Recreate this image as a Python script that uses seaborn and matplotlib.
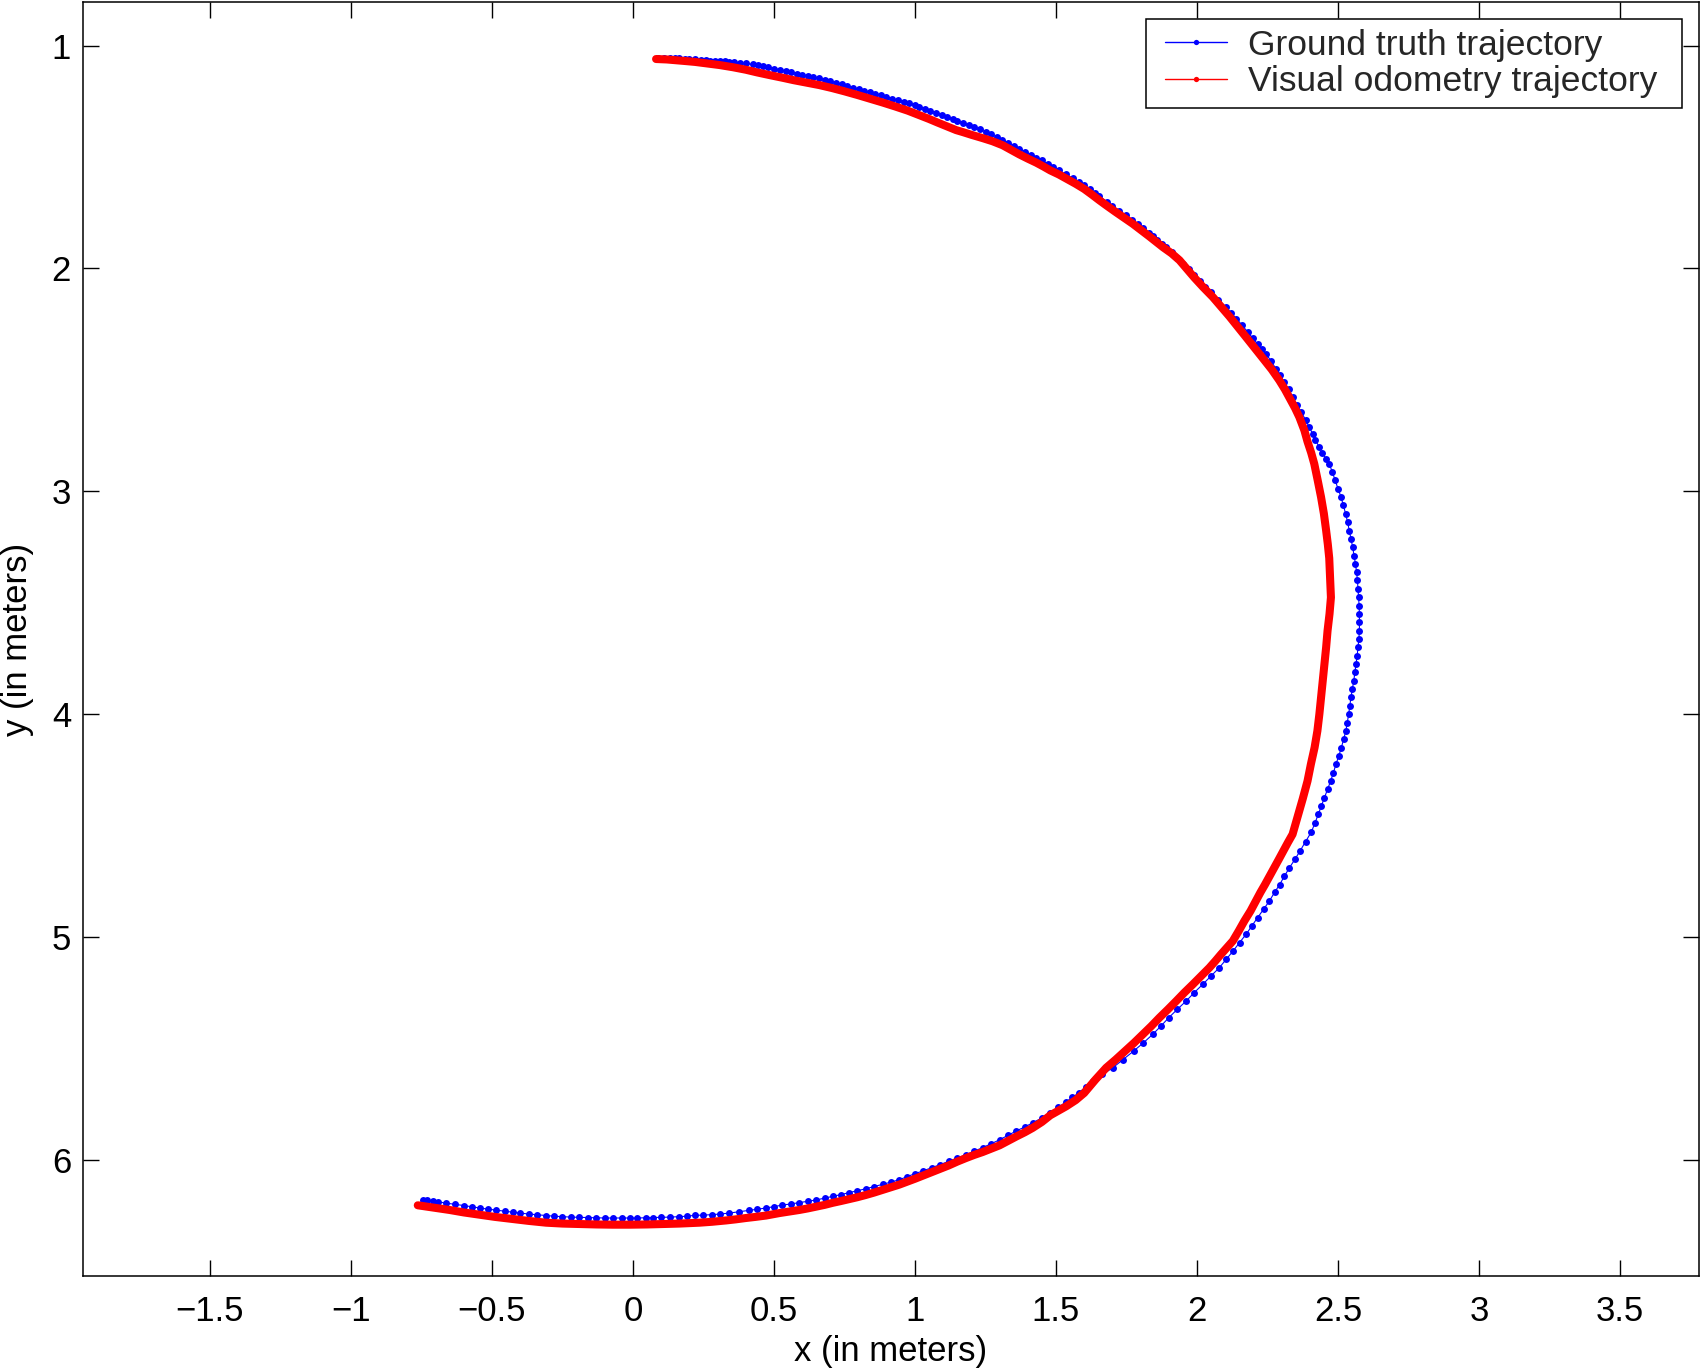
import matplotlib
matplotlib.use("Agg")
import matplotlib.pyplot as plt
from matplotlib.lines import Line2D
from matplotlib.legend_handler import HandlerLine2D
import seaborn as sns

gt_x = [0.09, 0.11, 0.13, 0.15, 0.165, 0.185, 0.20, 0.22, 0.24, 0.26,
        0.275, 0.29, 0.307, 0.325, 0.34, 0.36, 0.38, 0.40, 0.425, 0.445,
        0.46, 0.48, 0.50, 0.52, 0.543, 0.56, 0.58, 0.60, 0.62, 0.64,
        0.661, 0.68, 0.70, 0.72, 0.74, 0.76, 0.779, 0.80, 0.82, 0.84,
        0.86, 0.88, 0.898, 0.92, 0.94, 0.96, 0.98, 1.00, 1.016, 1.035,
        1.055, 1.075, 1.095, 1.115, 1.134, 1.15, 1.17, 1.19, 1.21, 1.23,
        1.252, 1.27, 1.29, 1.31, 1.33, 1.35, 1.37, 1.39, 1.41, 1.43,
        1.45, 1.47, 1.49, 1.51, 1.536, 1.56, 1.58, 1.60, 1.62, 1.637,
        1.654, 1.68, 1.70, 1.725, 1.748, 1.77, 1.79, 1.81, 1.83, 1.845,
        1.86, 1.875, 1.89, 1.91, 1.93, 1.95, 1.97, 1.99, 2.01, 2.03,
        2.05, 2.075, 2.103, 2.12, 2.14, 2.16, 2.18, 2.198, 2.215, 2.23,
        2.245, 2.263, 2.28, 2.295, 2.31, 2.325, 2.339, 2.355, 2.37, 2.385,
        2.398, 2.41, 2.42, 2.433, 2.445, 2.457, 2.469, 2.48, 2.49, 2.50,
        2.511, 2.519, 2.527, 2.534, 2.540, 2.546, 2.552, 2.557, 2.562, 2.566,
        2.569, 2.571, 2.573, 2.575, 2.576, 2.576, 2.576, 2.574, 2.571, 2.568,
        2.564, 2.560, 2.556, 2.551, 2.546, 2.542, 2.538, 2.533, 2.528, 2.520,
        2.512, 2.503, 2.493, 2.484, 2.474, 2.463, 2.452, 2.441, 2.43, 2.418,
        2.405, 2.385, 2.365, 2.347, 2.328, 2.31, 2.293, 2.275, 2.257, 2.236,
        2.215, 2.195, 2.174, 2.151, 2.128, 2.104, 2.079, 2.05, 2.02, 1.99,
        1.961, 1.93, 1.90, 1.872, 1.843, 1.81, 1.775, 1.738, 1.701, 1.665,
        1.63, 1.605, 1.58, 1.558, 1.536, 1.508, 1.48, 1.45, 1.417, 1.39,
        1.36, 1.33, 1.30, 1.27, 1.24, 1.21, 1.181, 1.15, 1.12, 1.09,
        1.06, 1.03, 1.00, 0.972, 0.945, 0.915, 0.885, 0.855, 0.825, 0.795,
        0.765, 0.737, 0.708, 0.68, 0.65, 0.62, 0.59, 0.56, 0.53, 0.50,
        0.472, 0.44, 0.41, 0.375, 0.342, 0.31, 0.28, 0.25, 0.22, 0.19,
        0.165, 0.13, 0.10, 0.07, 0.045, 0.015, -0.012, -0.04, -0.07, -0.10,
        -0.13, -0.16, -0.19, -0.22, -0.25, -0.28, -0.308, -0.34, -0.37, -0.40,
        -0.426, -0.455, -0.485, -0.515, -0.544, -0.57, -0.60, -0.63, -0.662, -0.69,
        -0.71, -0.73, -0.745]
gt_y = [1.055, 1.055, 1.056, 1.056, 1.057, 1.058, 1.060, 1.062, 1.064, 1.066,
        1.067, 1.068, 1.069, 1.071, 1.073, 1.075, 1.078, 1.080, 1.084, 1.089,
        1.093, 1.098, 1.103, 1.108, 1.114, 1.119, 1.125, 1.130, 1.136, 1.141,
        1.147, 1.153, 1.160, 1.167, 1.174, 1.181, 1.188, 1.195, 1.202, 1.209,
        1.216, 1.223, 1.230, 1.238, 1.245, 1.252, 1.259, 1.267, 1.274, 1.283,
        1.292, 1.301, 1.311, 1.321, 1.331, 1.339, 1.348, 1.357, 1.367, 1.376,
        1.387, 1.398, 1.410, 1.423, 1.436, 1.449, 1.462, 1.476, 1.490, 1.502,
        1.515, 1.530, 1.545, 1.560, 1.578, 1.595, 1.610, 1.627, 1.645, 1.660,
        1.675, 1.700, 1.718, 1.740, 1.761, 1.781, 1.800, 1.820, 1.840, 1.856,
        1.872, 1.888, 1.903, 1.928, 1.953, 1.978, 2.003, 2.029, 2.055, 2.081,
        2.107, 2.140, 2.173, 2.198, 2.225, 2.255, 2.285, 2.313, 2.340, 2.361,
        2.383, 2.416, 2.450, 2.480, 2.510, 2.543, 2.577, 2.611, 2.645, 2.679,
        2.712, 2.741, 2.770, 2.800, 2.830, 2.853, 2.877, 2.913, 2.950, 2.988,
        3.026, 3.063, 3.100, 3.138, 3.176, 3.213, 3.250, 3.288, 3.326, 3.363,
        3.400, 3.438, 3.476, 3.513, 3.550, 3.588, 3.626, 3.663, 3.700, 3.738,
        3.775, 3.813, 3.850, 3.888, 3.925, 3.963, 4.000, 4.038, 4.075, 4.113,
        4.150, 4.187, 4.224, 4.262, 4.300, 4.337, 4.374, 4.412, 4.450, 4.490,
        4.530, 4.572, 4.615, 4.652, 4.689, 4.727, 4.765, 4.800, 4.838, 4.876,
        4.913, 4.950, 4.988, 5.025, 5.063, 5.100, 5.138, 5.175, 5.213, 5.250,
        5.288, 5.325, 5.362, 5.400, 5.437, 5.475, 5.512, 5.550, 5.587, 5.617,
        5.647, 5.674, 5.700, 5.720, 5.740, 5.765, 5.790, 5.812, 5.834, 5.852,
        5.870, 5.890, 5.910, 5.928, 5.945, 5.961, 5.977, 5.992, 6.007, 6.021,
        6.035, 6.049, 6.062, 6.076, 6.089, 6.100, 6.110, 6.120, 6.130, 6.139,
        6.148, 6.156, 6.164, 6.172, 6.180, 6.186, 6.192, 6.198, 6.203, 6.210,
        6.216, 6.222, 6.227, 6.233, 6.239, 6.243, 6.246, 6.248, 6.249, 6.253,
        6.255, 6.257, 6.258, 6.259, 6.260, 6.261, 6.261, 6.261, 6.261, 6.261,
        6.260, 6.259, 6.258, 6.257, 6.255, 6.253, 6.250, 6.247, 6.243, 6.239,
        6.235, 6.231, 6.226, 6.221, 6.216, 6.211, 6.205, 6.200, 6.194, 6.189,
        6.186, 6.182, 6.178]

# Trayectoria de odometria visual
vo_x = [0.082, 0.12, 0.15, 0.185, 0.22, 0.265, 0.307, 0.355, 0.40, 0.44,
        0.484, 0.53, 0.57, 0.615, 0.661, 0.705, 0.75, 0.795, 0.838, 0.885,
        0.93, 0.975, 1.016, 1.05, 1.08, 1.115, 1.146, 1.17, 1.20, 1.24,
        1.275, 1.311, 1.34, 1.37, 1.40, 1.43, 1.455, 1.48, 1.51, 1.536,
        1.57, 1.60, 1.627, 1.654, 1.68, 1.71, 1.74, 1.772, 1.80, 1.83,
        1.855, 1.88, 1.91, 1.938, 1.963, 1.99, 2.022, 2.056, 2.085, 2.115,
        2.145, 2.174, 2.205, 2.235, 2.265, 2.292, 2.312, 2.33, 2.348, 2.363,
        2.372, 2.381, 2.392, 2.405, 2.416, 2.428, 2.44, 2.45, 2.458, 2.464,
        2.469, 2.472, 2.475, 2.470, 2.463, 2.458, 2.452, 2.446, 2.44, 2.434,
        2.427, 2.417, 2.404, 2.392, 2.375, 2.357, 2.339, 2.322, 2.306, 2.29,
        2.274, 2.258, 2.241, 2.225, 2.209, 2.19, 2.168, 2.148, 2.127, 2.106,
        2.085, 2.065, 2.044, 2.015, 1.985, 1.955, 1.926, 1.897, 1.867, 1.838,
        1.808, 1.777, 1.745, 1.712, 1.678, 1.64, 1.60, 1.57, 1.536, 1.508,
        1.48, 1.45, 1.417, 1.39, 1.36, 1.33, 1.30, 1.27, 1.24, 1.21,
        1.181, 1.15, 1.12, 1.09, 1.06, 1.03, 1.00, 0.972, 0.945, 0.915,
        0.885, 0.855, 0.825, 0.795, 0.765, 0.737, 0.708, 0.68, 0.65, 0.62,
        0.59, 0.555, 0.519, 0.472, 0.435, 0.401, 0.365, 0.33, 0.28, 0.236,
        0.20, 0.165, 0.11, 0.05, -0.01, -0.072, -0.13, -0.19, -0.25, -0.308,
        -0.37, -0.43, -0.49, -0.544, -0.60, -0.65, -0.71, -0.763]
vo_y = [1.060, 1.062, 1.065, 1.069, 1.073, 1.080, 1.087, 1.097, 1.108, 1.120,
        1.132, 1.144, 1.155, 1.166, 1.177, 1.190, 1.205, 1.221, 1.237, 1.255,
        1.273, 1.292, 1.312, 1.329, 1.345, 1.363, 1.379, 1.388, 1.400, 1.415,
        1.429, 1.447, 1.467, 1.488, 1.507, 1.525, 1.542, 1.560, 1.578, 1.596,
        1.620, 1.643, 1.668, 1.694, 1.718, 1.745, 1.771, 1.799, 1.826, 1.855,
        1.880, 1.905, 1.932, 1.963, 2.000, 2.040, 2.084, 2.128, 2.171, 2.215,
        2.262, 2.308, 2.357, 2.405, 2.453, 2.502, 2.543, 2.585, 2.627, 2.667,
        2.697, 2.727, 2.777, 2.827, 2.877, 2.950, 3.026, 3.100, 3.176, 3.238,
        3.300, 3.390, 3.476, 3.550, 3.626, 3.700, 3.775, 3.850, 3.925, 4.000,
        4.075, 4.150, 4.224, 4.300, 4.380, 4.460, 4.539, 4.577, 4.615, 4.652,
        4.689, 4.727, 4.765, 4.800, 4.838, 4.883, 4.928, 4.973, 5.018, 5.048,
        5.078, 5.108, 5.138, 5.175, 5.213, 5.250, 5.288, 5.325, 5.362, 5.400,
        5.437, 5.475, 5.512, 5.550, 5.587, 5.640, 5.700, 5.732, 5.760, 5.780,
        5.800, 5.830, 5.857, 5.876, 5.895, 5.915, 5.935, 5.950, 5.965, 5.978,
        5.992, 6.008, 6.025, 6.040, 6.055, 6.070, 6.085, 6.098, 6.111, 6.123,
        6.135, 6.147, 6.158, 6.168, 6.177, 6.185, 6.193, 6.202, 6.210, 6.218,
        6.225, 6.232, 6.239, 6.250, 6.256, 6.261, 6.267, 6.272, 6.278, 6.282,
        6.284, 6.286, 6.288, 6.290, 6.291, 6.291, 6.290, 6.288, 6.286, 6.282,
        6.274, 6.265, 6.256, 6.246, 6.236, 6.225, 6.214, 6.204]

x_ticks = [-1.5, -1, -0.5, 0, 0.5, 1, 1.5, 2, 2.5, 3, 3.5]
x_tick_labels = ["\u22121.5", "\u22121", "\u22120.5", "0", "0.5", "1", "1.5", "2", "2.5", "3", "3.5"]
y_ticks = [1, 2, 3, 4, 5, 6]
y_tick_labels = ["1", "2", "3", "4", "5", "6"]
series_names = ["Ground truth trajectory", "Visual odometry trajectory"]

sns.set_theme(style="white")
plt.rcParams['font.family'] = ['Liberation Sans', 'DejaVu Sans']

fig = plt.figure(figsize=(17.01, 13.71), dpi=100)
ax = fig.add_axes([0.0488, 0.0695, 0.9500, 0.9289])

# Linea real: puntos azules unidos por linea fina
sns.lineplot(x=gt_x, y=gt_y, sort=False, estimator=None, color="#0000ff",
             linewidth=0.8, marker="o", markersize=5.0, markeredgewidth=0, ax=ax)
# Odometria: banda roja gruesa (muchos puntos solapados)
sns.lineplot(x=vo_x, y=vo_y, sort=False, estimator=None, color="#ff0000",
             linewidth=5.8, solid_capstyle="round", solid_joinstyle="round", ax=ax)

ax.set_xlim(-1.95, 3.78)
ax.set_ylim(6.52, 0.805)
ax.set_xticks(x_ticks)
ax.set_xticklabels(x_tick_labels)
ax.set_yticks(y_ticks)
ax.set_yticklabels(y_tick_labels)
ax.tick_params(direction="in", length=11.5, width=1, color="black",
               top=True, right=True, bottom=True, left=True,
               labelsize=25, labelcolor="black")
ax.tick_params(axis="x", pad=14)
ax.tick_params(axis="y", pad=8.6)
for s in ax.spines.values():
    s.set_color("black")
    s.set_linewidth(1.1)

ax.set_xlabel("x (in meters)", fontsize=25, labelpad=5, color="black")
ax.set_ylabel("y (in meters)", fontsize=25, labelpad=12.5, color="black")

handles = [
    Line2D([], [], color="#0000ff", linewidth=1, marker="o", markersize=3.8, markeredgewidth=0),
    Line2D([], [], color="#ff0000", linewidth=1, marker="o", markersize=3.8, markeredgewidth=0),
]
leg = ax.legend(handles, series_names, loc="upper left",
                bbox_to_anchor=(0.6576, 0.0, 0.3317, 0.9868), mode="expand",
                fontsize=25.5, frameon=True, fancybox=False, shadow=False, framealpha=1,
                edgecolor="black", handlelength=2.02, handletextpad=0.61,
                labelspacing=0.105, borderpad=0.27, borderaxespad=0,
                handler_map={Line2D: HandlerLine2D(xpad=0.277)})
leg.get_frame().set_linewidth(1.1)

fig.savefig("out.png", dpi=100)
